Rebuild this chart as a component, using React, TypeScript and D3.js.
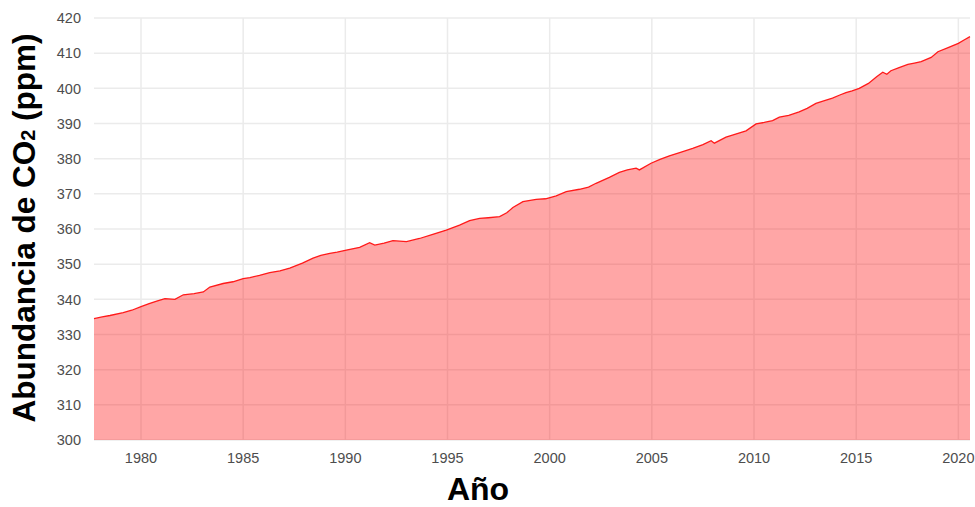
import React from 'react';
import * as d3 from 'd3';

// CO2 abundance (fractional year, ppm)
const years = [
  1977.70, 1978.10, 1978.48, 1979.13, 1979.55, 1980.00, 1980.40, 1980.77, 1981.17, 1981.66,
  1982.07, 1982.60, 1983.05, 1983.37, 1984.02, 1984.50, 1985.00, 1985.33, 1985.80, 1986.30,
  1986.80, 1987.28, 1987.90, 1988.42, 1988.80, 1989.24, 1989.60, 1990.05, 1990.70, 1991.19,
  1991.44, 1991.90, 1992.33, 1992.99, 1993.63, 1994.28, 1994.94, 1995.59, 1996.08, 1996.57,
  1997.00, 1997.55, 1997.90, 1998.20, 1998.69, 1999.34, 1999.80, 2000.32, 2000.81, 2001.46,
  2001.90, 2002.27, 2002.92, 2003.41, 2003.80, 2004.23, 2004.39, 2004.96, 2005.40, 2005.86,
  2006.40, 2007.00, 2007.50, 2007.90, 2008.06, 2008.63, 2009.10, 2009.61, 2010.10, 2010.50,
  2010.91, 2011.24, 2011.70, 2012.21, 2012.60, 2013.03, 2013.45, 2013.84, 2014.20, 2014.50,
  2014.80, 2015.15, 2015.60, 2016.00, 2016.30, 2016.50, 2016.70, 2017.10, 2017.53, 2017.85,
  2018.18, 2018.67, 2019.00, 2019.50, 2020.00, 2020.30, 2020.57,
];
const co2 = [
  334.5, 335.0, 335.4, 336.2, 336.9, 337.9, 338.8, 339.5, 340.2, 340.0,
  341.3, 341.6, 342.1, 343.5, 344.5, 345.0, 345.9, 346.2, 346.8, 347.6,
  348.1, 348.9, 350.3, 351.7, 352.5, 353.1, 353.4, 354.0, 354.8, 356.1,
  355.4, 356.0, 356.7, 356.4, 357.3, 358.5, 359.7, 361.1, 362.4, 363.0,
  363.2, 363.5, 364.6, 366.1, 367.8, 368.4, 368.6, 369.4, 370.6, 371.3,
  371.9, 373.0, 374.7, 376.1, 376.8, 377.3, 376.8, 378.7, 379.8, 380.8,
  381.8, 382.9, 384.0, 385.1, 384.4, 386.1, 387.0, 387.9, 389.9, 390.3,
  390.8, 391.8, 392.3, 393.3, 394.3, 395.7, 396.5, 397.2, 398.1, 398.8,
  399.3, 400.0, 401.4, 403.3, 404.6, 404.0, 405.0, 405.9, 406.8, 407.2,
  407.6, 408.8, 410.4, 411.6, 412.8, 413.8, 414.7,
];
const xTicks = [1980, 1985, 1990, 1995, 2000, 2005, 2010, 2015, 2020];
const yTicks = [300, 310, 320, 330, 340, 350, 360, 370, 380, 390, 400, 410, 420];

const width = 975;
const height = 507;
const margin = { top: 18, right: 5, bottom: 67, left: 94 };

export default function App() {
  const data = years.map((y, i) => ({ year: y, value: co2[i] }));

  const x = d3.scaleLinear()
    .domain([years[0], years[years.length - 1]])
    .range([margin.left, width - margin.right]);
  const y = d3.scaleLinear()
    .domain([300, 420])
    .range([height - margin.bottom, margin.top]);

  const area = d3.area<{ year: number; value: number }>()
    .x(d => x(d.year))
    .y0(y(300))
    .y1(d => y(d.value));
  const line = d3.line<{ year: number; value: number }>()
    .x(d => x(d.year))
    .y(d => y(d.value));

  const font = "'Liberation Sans', Arial, sans-serif";

  return (
    <svg width={width} height={height} style={{ position: 'absolute', left: 0, top: 0 }}
      fontFamily={font}>
      <rect width={width} height={height} fill="#fff" />
      <g stroke="#ebebeb" strokeWidth={1.5}>
        {yTicks.map(t => (
          <line key={t} x1={margin.left} x2={width - margin.right} y1={y(t)} y2={y(t)} />
        ))}
        {xTicks.map(t => (
          <line key={t} x1={x(t)} x2={x(t)} y1={margin.top} y2={height - margin.bottom} />
        ))}
      </g>
      <path d={area(data) ?? ''} fill="#ff0000" fillOpacity={0.35} />
      <path d={line(data) ?? ''} fill="none" stroke="#ff1a1a" strokeWidth={1.3} />
      <g fontSize={14.5} fill="#4d4d4d">
        {yTicks.map(t => (
          <text key={t} x={81} y={y(t)} dy="0.36em" textAnchor="end">{t}</text>
        ))}
        {xTicks.map(t => (
          <text key={t} x={x(t)} y={463} textAnchor="middle">{t}</text>
        ))}
      </g>
      <text x={478} y={500} textAnchor="middle" fontSize={32} fontWeight="bold" fill="#000">Año</text>
      <text transform={`translate(35,${(margin.top + height - margin.bottom) / 2 - 1}) rotate(-90)`}
        textAnchor="middle" fontSize={31.5} fontWeight="bold" fill="#000">
        Abundancia de CO<tspan fontSize={20}>2</tspan> (ppm)
      </text>
    </svg>
  );
}
